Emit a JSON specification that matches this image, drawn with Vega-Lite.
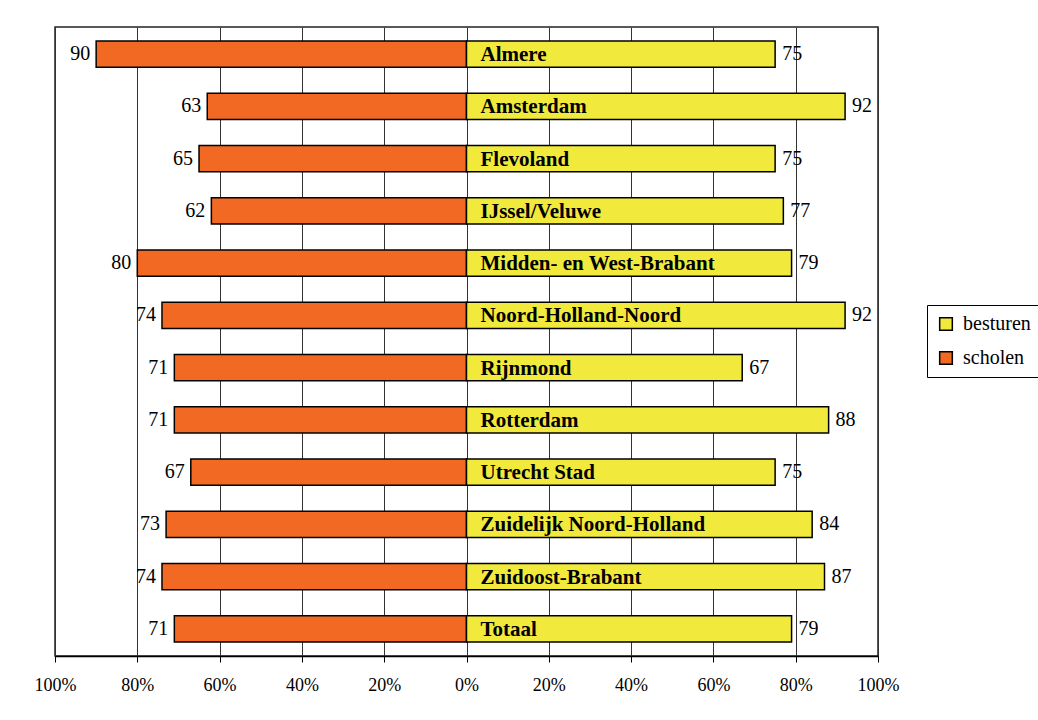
{
  "$schema": "https://vega.github.io/schema/vega-lite/v6.json",
  "width": 823,
  "height": 629,
  "autosize": {"type": "none"},
  "padding": {"left": 55, "top": 27, "right": 160, "bottom": 64},
  "background": "white",
  "config": {
    "view": {"stroke": "#222", "strokeWidth": 1.5},
    "font": "Liberation Serif"
  },
  "data": {
    "values": [
      {"regio": "Almere", "scholen": 90, "besturen": 75},
      {"regio": "Amsterdam", "scholen": 63, "besturen": 92},
      {"regio": "Flevoland", "scholen": 65, "besturen": 75},
      {"regio": "IJssel/Veluwe", "scholen": 62, "besturen": 77},
      {"regio": "Midden- en West-Brabant", "scholen": 80, "besturen": 79},
      {"regio": "Noord-Holland-Noord", "scholen": 74, "besturen": 92},
      {"regio": "Rijnmond", "scholen": 71, "besturen": 67},
      {"regio": "Rotterdam", "scholen": 71, "besturen": 88},
      {"regio": "Utrecht Stad", "scholen": 67, "besturen": 75},
      {"regio": "Zuidelijk Noord-Holland", "scholen": 73, "besturen": 84},
      {"regio": "Zuidoost-Brabant", "scholen": 74, "besturen": 87},
      {"regio": "Totaal", "scholen": 71, "besturen": 79}
    ]
  },
  "encoding": {
    "y": {
      "field": "regio",
      "type": "nominal",
      "sort": null,
      "scale": {"paddingInner": 0.5, "paddingOuter": 0.27},
      "axis": null
    }
  },
  "layer": [
    {
      "encoding": {
        "x": {
          "field": "scholen",
          "type": "quantitative",
          "scale": {"domain": [-100, 100], "reverse": true, "nice": false, "zero": false},
          "axis": null
        }
      },
      "layer": [
        {
          "mark": {"type": "bar", "stroke": "black", "strokeWidth": 1.5},
          "encoding": {
            "color": {
              "datum": "scholen",
              "type": "nominal",
              "scale": {"domain": ["besturen", "scholen"], "range": ["#F1EA3D", "#F26924"]},
              "legend": {
                "orient": "none",
                "legendX": 872,
                "legendY": 278,
                "title": null,
                "strokeColor": "black",
                "fillColor": "white",
                "padding": 9,
                "symbolType": "square",
                "symbolSize": 160,
                "symbolStrokeColor": "black",
                "symbolStrokeWidth": 1.5,
                "symbolOpacity": 1,
                "labelFontSize": 20,
                "labelColor": "black",
                "labelOffset": 7,
                "rowPadding": 14
              }
            }
          }
        },
        {
          "mark": {"type": "text", "align": "right", "baseline": "middle", "dx": -6, "fontSize": 20, "color": "black"},
          "encoding": {"text": {"field": "scholen", "type": "quantitative"}}
        }
      ]
    },
    {
      "encoding": {
        "x": {
          "field": "besturen",
          "type": "quantitative",
          "scale": {"domain": [-100, 100], "nice": false, "zero": false},
          "axis": {
            "values": [-100, -80, -60, -40, -20, 0, 20, 40, 60, 80, 100],
            "labelExpr": "abs(datum.value) + '%'",
            "title": null,
            "grid": true,
            "gridColor": "#333",
            "gridWidth": 1,
            "domainColor": "black",
            "domainWidth": 1.5,
            "tickColor": "black",
            "tickSize": 6,
            "labelFont": "Liberation Serif",
            "labelFontSize": 18,
            "labelColor": "black",
            "labelPadding": 14,
            "labelFlush": false
          }
        }
      },
      "layer": [
        {
          "mark": {"type": "bar", "stroke": "black", "strokeWidth": 1.5},
          "encoding": {"color": {"datum": "besturen", "type": "nominal"}}
        },
        {
          "mark": {"type": "text", "align": "left", "baseline": "middle", "dx": 7, "fontSize": 20, "color": "black"},
          "encoding": {"text": {"field": "besturen", "type": "quantitative"}}
        },
        {
          "mark": {"type": "text", "align": "left", "baseline": "middle", "dx": 14, "dy": 1, "fontSize": 21, "fontWeight": "bold", "color": "black"},
          "encoding": {
            "x": {"datum": 0, "type": "quantitative"},
            "text": {"field": "regio", "type": "nominal"}
          }
        }
      ]
    }
  ],
  "resolve": {"scale": {"x": "independent"}}
}
